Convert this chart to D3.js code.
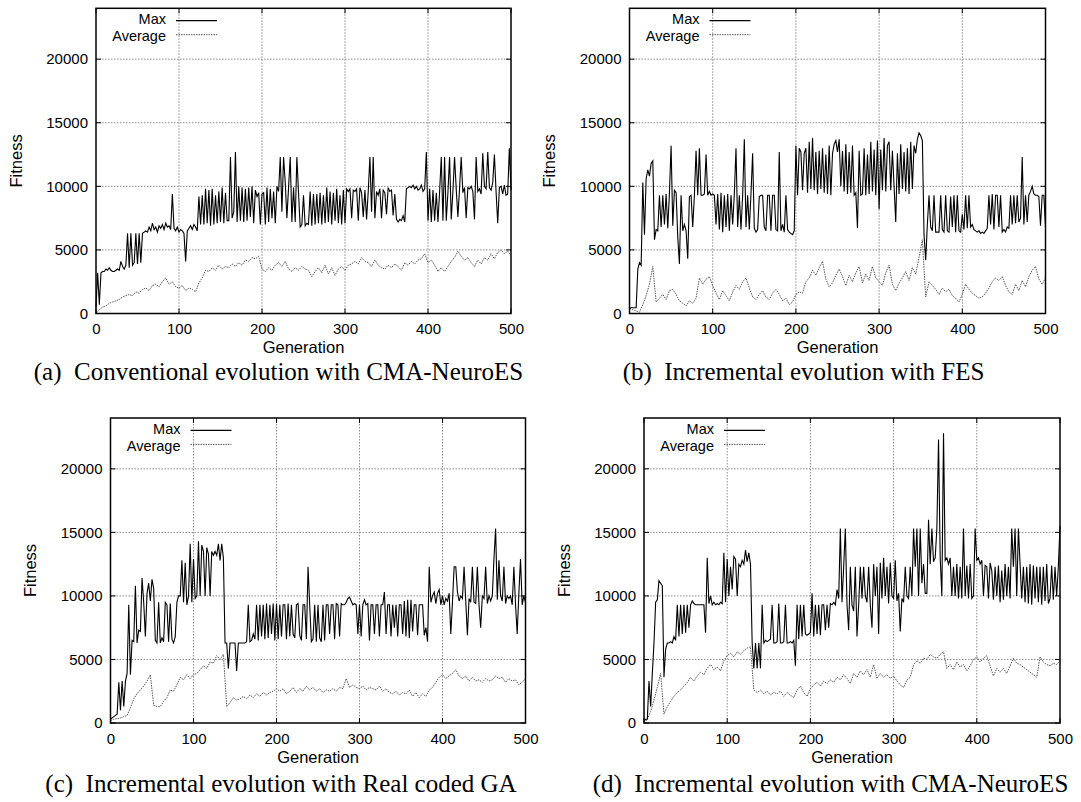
<!DOCTYPE html>
<meta charset="utf-8" />
<script src="https://d3js.org/d3.v7.min.js"></script>
<style>
	body { margin: 0; background: #fff; }
</style>
<div id="my_dataviz"></div>

<script>
	var genMax = d3.range(0, 501, 2);
	var genAvg = d3.range(0, 501, 4);

	var xTicks = [0, 100, 200, 300, 400, 500];
	var yTicks = [0, 5000, 10000, 15000, 20000];

	// (a) conventional evolution with CMA-NeuroES
	var maxA = [
		500, 3200, 700, 3200, 3300, 3300, 3500, 3400, 3600, 3400,
		3300, 3300, 3400, 3500, 3400, 4100, 3700, 3500, 3800, 6300,
		3600, 6300, 3800, 4000, 6300, 3900, 6300, 4000, 6300, 6400,
		6500, 6400, 6800, 6500, 7100, 6600, 6800, 6400, 6900, 6700,
		7000, 6600, 7100, 6800, 6900, 6600, 9400, 6700, 6500, 6800,
		6400, 6600, 6500, 6300, 4100, 6500, 6700, 6900, 6600, 7000,
		6800, 6500, 9200, 7000, 9300, 7000, 9800, 7100, 9700, 6900,
		9800, 7000, 9300, 7100, 9600, 7200, 9900, 7100, 9500, 7300,
		7300, 12300, 7500, 8000, 12700, 7200, 10000, 7300, 9900, 7200,
		9800, 7300, 9900, 7600, 10000, 7100, 9700, 9200, 9500, 7000,
		9400, 9500, 7000, 9900, 7200, 9800, 7500, 9600, 7100, 10000,
		9600, 12300, 8000, 12300, 10300, 7500, 9900, 12300, 7200, 9900,
		7200, 12300, 9500, 6800, 7000, 9300, 6900, 7100, 7000, 9600,
		6900, 9400, 7000, 9400, 7100, 9500, 7000, 9300, 7100, 9900,
		7200, 9600, 7000, 9500, 7300, 9800, 7100, 9300, 7000, 9700,
		7100, 9800, 9600, 9800, 7500, 9700, 9600, 9800, 7300, 9900,
		9500, 7600, 9700, 7400, 9600, 12300, 8000, 12300, 7500, 9600,
		9300, 9800, 7500, 9700, 9500, 7800, 9900, 9600, 9700, 7700,
		9400, 7400, 7200, 7400, 7300, 7700, 7200, 9800, 9900, 10000,
		9900, 10100, 9800, 10000, 9700, 9800, 10100, 9600, 9800, 12700,
		7300, 9800, 7200, 9700, 7300, 9500, 7200, 9600, 12300, 7300,
		12300, 7300, 9500, 12300, 7400, 9600, 12300, 9800, 7600, 9800,
		12300, 9500, 9900, 7500, 9900, 9800, 10000, 9600, 7400, 12300,
		9600, 9800, 9400, 12600, 10000, 9800, 12700, 9900, 9700, 10300,
		12500, 9600, 7100, 9900, 10000, 9400, 10100, 9300, 9400, 13000,
		9700
	];
	var avgA = [
		0, 300, 500, 600, 800, 900, 1000, 1100, 1300, 1400,
		1500, 1400, 1700, 1600, 1900, 2000, 1800, 2200, 2300, 2100,
		2500, 2800, 2300, 2500, 2100, 2000, 2200, 1800, 2000, 1900,
		1700, 2400, 2800, 3400, 3300, 3600, 3400, 3800, 3500, 3700,
		3600, 3900, 3700, 4000, 3800, 4200, 4100, 4400, 4300, 4500,
		3500, 3300, 3600, 3400, 3800, 4000, 3700, 4100, 3500, 3300,
		3600, 3400, 3700, 3500, 3400, 2900, 3300, 3600, 3200, 3800,
		3100, 3600, 3000, 3500, 3700, 3400, 3800, 3900, 4100, 3900,
		4400, 4100, 4000, 3700, 4200, 3800, 3600, 3500, 3800, 3600,
		3900, 3700, 3400, 4000, 3800, 4100, 3900, 4200, 4300, 4700,
		4000, 4200, 3800, 3300, 3600, 3300, 3700, 4100, 4400, 4900,
		4500, 4200, 4400, 4000, 3700, 4200, 3900, 4400, 4200, 4700,
		4300, 4800, 5000, 4700, 4900, 4600
	];

	// (b) incremental evolution with FES
	var maxB = [
		400, 450, 450, 450, 450, 3500, 4000, 3800, 10300, 6200,
		10600, 11300, 10800, 11800, 12000, 5800, 6600, 6500, 9300, 6800,
		9300, 7000, 9400, 6700, 9500, 13200, 6900, 9700, 9500, 6000,
		3900, 9300, 6500, 7000, 6500, 4300, 9200, 9300, 6800, 9300,
		12800, 9300, 13000, 9300, 9300, 9400, 12500, 9300, 9600, 9300,
		9400, 9300, 7000, 9400, 6600, 9500, 6400, 9300, 6800, 9400,
		6500, 9300, 7000, 9400, 13000, 6800, 9300, 6600, 9300, 13700,
		6800, 9300, 6600, 9400, 12600, 6700, 6400, 6600, 9200, 9300,
		9300, 6800, 6500, 9300, 9300, 6500, 9300, 9300, 6600, 6500,
		12700, 6500, 7000, 6400, 9300, 6600, 6400, 6300, 6200, 6500,
		13200, 9300, 13000, 12700, 9700, 12600, 13000, 9500, 13500, 9800,
		13800, 9700, 12700, 9400, 12800, 9800, 13000, 9500, 12500, 9400,
		13200, 9300, 12600, 13300, 13600, 12700, 13700, 10000, 12800, 9600,
		13300, 9400, 12700, 9500, 13200, 9300, 9500, 6700, 12800, 9300,
		9400, 13000, 9300, 12500, 9400, 13500, 9600, 12900, 9300, 13600,
		8200, 12900, 9700, 13800, 9600, 13200, 13500, 9700, 12800, 10000,
		7200, 12600, 9400, 13300, 9800, 12700, 9600, 13000, 9400, 13500,
		9800, 13200, 12600, 13700, 14200, 14000, 13600, 6200, 4200, 7000,
		9300, 6800, 6500, 9300, 6400, 6400, 6400, 9300, 6600, 6400,
		9300, 6500, 6400, 9200, 6800, 9300, 6400, 9300, 6500, 6400,
		7800, 6600, 9300, 6700, 9300, 6800, 7000, 6600, 6500, 6400,
		6500, 6300, 6400, 6300, 6500, 6700, 9300, 7000, 9400, 6600,
		9300, 9300, 6800, 9300, 6400, 6600, 6400, 6800, 6700, 9300,
		7000, 9300, 7100, 9300, 7200, 7500, 12300, 7000, 9300, 7200,
		9300, 9600, 10000, 9400, 9300, 9300, 9200, 6900, 9300, 9300,
		6800
	];
	var avgB = [
		400, 300, 200, 100, 700, 1400, 2300, 3700, 900, 1200,
		1500, 1100, 1800, 1900, 1500, 1000, 800, 600, 1000, 800,
		1200, 2800, 2300, 2700, 2900, 2200, 1600, 1100, 1800, 1400,
		1000, 1700, 2200, 1900, 2500, 2800, 2000, 1300, 1100, 1500,
		1800, 1300, 1100, 1600, 1900, 1500, 1000, 1200, 700, 900,
		1500, 1700, 1600, 2500, 2800, 3400, 3000, 3600, 4100, 2700,
		2100, 2400, 3000, 3500, 2900, 2200, 3000, 2500, 3200, 3700,
		2400, 3100, 2600, 3700, 2800, 2500, 2200, 3200, 3800, 2300,
		1800, 2400, 2800, 3300, 2600, 3600, 3100, 4400, 5800, 1300,
		2500, 2200, 1900, 1500, 2000, 1700, 1900, 1400, 1200, 900,
		1500, 2300, 1900, 1600, 1400, 1200, 1300, 1600, 2000, 2500,
		2800, 2600, 2900, 2200, 1700, 1500, 2300, 1800, 2600, 2100,
		2900, 3400, 3700, 2700, 2300, 2800
	];

	// (c) incremental evolution with real coded GA
	var maxC = [
		300, 400, 500, 600, 700, 3200, 1000, 3300, 1300, 3300,
		3900, 9300, 3800, 6500, 6400, 10800, 6300, 7300, 7200, 11400,
		9500, 6800, 10200, 11000, 9600, 11300, 10600, 6500, 6300, 9500,
		6300, 6700, 6400, 9500, 9300, 6400, 9400, 6600, 6300, 6800,
		9500, 10000, 10000, 12800, 9500, 12600, 9300, 10000, 14100, 9500,
		12900, 9800, 10000, 14300, 10000, 14000, 13500, 10000, 13800, 13300,
		10000, 13500, 13200, 13500, 13200, 14100, 12800, 14100, 13000, 6300,
		6300, 4300, 6300, 6300, 6300, 6300, 4100, 6300, 6300, 6300,
		6300, 6300, 6400, 9300, 6400, 6500, 7000, 6600, 9300, 6500,
		9300, 6800, 9300, 6600, 9400, 6700, 9300, 7000, 9400, 6500,
		9400, 6600, 9300, 6800, 9300, 9300, 6600, 9400, 6800, 9300,
		7000, 6700, 9300, 9400, 6900, 6500, 9300, 9300, 6600, 12300,
		9300, 6400, 6600, 9300, 6400, 9300, 6700, 6400, 9300, 6500,
		9300, 9300, 7000, 9300, 9300, 6600, 9400, 9300, 6800, 9400,
		9300, 9300, 9500, 9800, 9900, 9600, 9300, 9400, 9300, 7000,
		9300, 6800, 9300, 9700, 9300, 9400, 6500, 9300, 9300, 7000,
		9300, 9300, 6800, 9300, 9300, 10300, 7000, 9300, 9300, 6800,
		9300, 7500, 9300, 6800, 9300, 9300, 7000, 9600, 6800, 9700,
		6700, 9700, 7200, 9300, 9300, 6900, 9300, 9300, 9300, 6900,
		7500, 6400, 12300, 9500, 10000, 10300, 9400, 10200, 10500, 9300,
		10000, 9300, 9800, 9600, 10200, 7000, 9500, 12300, 12300, 10300,
		9600, 10000, 9800, 12300, 9600, 6900, 9800, 9500, 12300, 9500,
		9400, 12300, 9300, 7500, 10000, 9800, 12300, 9400, 10000, 9600,
		10000, 12900, 15300, 9700, 12800, 10000, 9600, 12300, 9400, 10000,
		9800, 10000, 9300, 12300, 9300, 7000, 10200, 12900, 9300, 10000,
		9500
	];
	var avgC = [
		200, 300, 350, 400, 500, 600, 1200, 1900, 2300, 2600,
		2900, 3300, 3800, 1400, 1300, 1300, 1700, 2000, 2600, 2500,
		3000, 3600, 3400, 3800, 3500, 3800, 3900, 4200, 4500, 4300,
		4800, 4700, 5300, 5000, 5400, 1300, 1600, 2000, 1800, 1900,
		2100, 1900, 2200, 2000, 2300, 2100, 2400, 2200, 2400, 2500,
		2700, 2500, 2700, 2300, 2500, 2800, 2400, 2700, 2500, 2900,
		2600, 2800, 2500, 2700, 2400, 2600, 2500, 2700, 2500, 2800,
		2700, 3500, 2800, 3000, 2800, 2700, 2900, 2600, 2800, 2700,
		2600, 2900, 2500, 2700, 2400, 2300, 2500, 2200, 2400, 2300,
		2600, 2100, 2400, 2000, 2300, 2100, 2600, 2800, 3200, 3600,
		3800, 3500, 3700, 3900, 4200, 3700, 3500, 3700, 3300, 3600,
		3300, 3400, 3200, 3500, 3300, 3400, 3700, 3500, 3600, 3200,
		3500, 3300, 3400, 3000, 3200, 3500
	];

	// (d) incremental evolution with CMA-NeuroES
	var maxD = [
		200, 300, 300, 3300, 1300, 3900, 6300, 9500, 9700, 11200,
		11000, 10800, 3600, 5800, 6300, 6300, 6400, 6300, 6800, 6500,
		9300, 6800, 9300, 7000, 9300, 7100, 9300, 7500, 9300, 9600,
		9400, 9300, 9300, 9300, 9300, 9300, 9300, 7100, 13000, 9400,
		10000, 9300, 9500, 9300, 9400, 9300, 9500, 9400, 13400, 9500,
		12900, 10000, 12300, 10500, 13100, 12900, 10000, 12500, 12300, 12800,
		12500, 13600, 12700, 13400, 12500, 6300, 4300, 6300, 4300, 6300,
		4300, 9300, 6300, 6500, 6400, 6500, 6600, 9300, 6300, 6300,
		6400, 9400, 6300, 6300, 6400, 9300, 6300, 6300, 6400, 6300,
		6500, 4500, 9300, 6600, 9300, 6800, 9300, 7000, 6900, 7000,
		7100, 10200, 6800, 9300, 7000, 9300, 6900, 9300, 9300, 7300,
		9300, 7500, 9400, 9300, 9500, 9300, 10500, 9800, 15300, 9500,
		12300, 15300, 9300, 7300, 12300, 9300, 8800, 12300, 6800, 9300,
		12300, 9800, 12300, 10000, 9500, 12300, 9300, 7500, 12500, 10000,
		12300, 7000, 12600, 9800, 13000, 10000, 12300, 9400, 12600, 10000,
		9800, 12800, 9600, 10200, 7200, 9800, 9500, 12300, 10000, 9800,
		12300, 10000, 15300, 12300, 15300, 10000, 15300, 11000, 12500, 10200,
		10200, 16000, 12500, 15300, 12700, 13000, 15300, 22300, 13000, 10000,
		22800, 12800, 13000, 12500, 13000, 10000, 12300, 10000, 12500, 9800,
		12300, 9800, 15300, 10000, 12400, 9800, 12500, 9800, 10000, 15300,
		12800, 13000, 12500, 12800, 10000, 12400, 12300, 9800, 12600, 12000,
		9700, 12300, 10000, 12400, 9500, 12000, 9700, 12500, 10000, 12300,
		9800, 15300, 12300, 15300, 10000, 15300, 12500, 9800, 12300, 9500,
		12300, 9400, 12500, 9300, 12400, 9800, 12300, 9500, 12300, 9300,
		12300, 9600, 12500, 9400, 9800, 12400, 9700, 12300, 10000, 12300,
		15500
	];
	var avgD = [
		0, 300, 900, 1800, 2800, 3900, 700, 1300, 1700, 2100,
		2400, 2600, 2900, 3200, 3600, 3300, 3700, 4000, 3800, 4300,
		4600, 4200, 4400, 4100, 4900, 5300, 5500, 5200, 5600, 5400,
		5700, 5900, 6000, 2600, 2400, 2600, 2300, 2500, 2200, 2400,
		2300, 2500, 2100, 2400, 2200, 2000, 2600, 2900, 2400, 2100,
		2700, 3000, 3200, 2900, 3300, 3100, 3400, 3200, 3600, 3400,
		3800, 3500, 3100, 3900, 3600, 4100, 3800, 4200, 3600, 4600,
		3500, 3900, 3600, 3800, 3500, 3700, 3300, 3000, 2800, 3400,
		3600, 4600, 4900, 4700, 5100, 5000, 5400, 5200, 5100, 5400,
		5600, 4300, 4600, 4200, 4800, 4400, 4600, 4100, 4500, 5000,
		5200, 4800, 5100, 5300, 4500, 3700, 4300, 4000, 4300, 3900,
		4500, 5100, 4700, 4600, 4400, 4200, 4000, 3800, 3600, 5200,
		4800, 4600, 4500, 4700, 4600, 4900
	];

	var legendLabels = ['Max', 'Average'];
	var captions = [
		'(a)\u2002Conventional evolution with CMA-NeuroES',
		'(b)\u2002Incremental evolution with FES',
		'(c)\u2002Incremental evolution with Real coded GA',
		'(d)\u2002Incremental evolution with CMA-NeuroES'
	];

	// panel placement on the page
	var panels = [
		{ left: 96, top: 8.3, w: 415, h: 305.2, max: maxA, avg: avgA, cap: captions[0], capX: 278.5, capY: 379.5 },
		{ left: 629.5, top: 8.3, w: 416, h: 305.2, max: maxB, avg: avgB, cap: captions[1], capX: 803.5, capY: 379.5 },
		{ left: 110.5, top: 418, w: 415, h: 305, max: maxC, avg: avgC, cap: captions[2], capX: 281, capY: 792 },
		{ left: 644, top: 418, w: 416, h: 305, max: maxD, avg: avgD, cap: captions[3], capX: 830.5, capY: 792 }
	];

	var sans = "'Liberation Sans', Arial, Helvetica, sans-serif";
	var serif = "'Liberation Serif', 'Times New Roman', serif";

	var svg = d3
		.select('#my_dataviz')
		.append('svg')
		.attr('width', 1081)
		.attr('height', 802);

	panels.forEach(function (p) {
		var g = svg.append('g').attr('transform', 'translate(' + p.left + ',' + p.top + ')');

		var x = d3.scaleLinear().domain([0, 500]).range([0, p.w]);
		var y = d3.scaleLinear().domain([0, 24000]).range([p.h, 0]);

		// dotted grid
		g.append('g')
			.selectAll('line')
			.data(xTicks.slice(1, -1))
			.enter()
			.append('line')
			.attr('x1', function (d) { return x(d); })
			.attr('x2', function (d) { return x(d); })
			.attr('y1', 0)
			.attr('y2', p.h)
			.attr('stroke', '#8a8a8a')
			.attr('stroke-width', 1)
			.attr('stroke-dasharray', '1.5,1.5');
		g.append('g')
			.selectAll('line')
			.data(yTicks.slice(1))
			.enter()
			.append('line')
			.attr('x1', 0)
			.attr('x2', p.w)
			.attr('y1', function (d) { return y(d); })
			.attr('y2', function (d) { return y(d); })
			.attr('stroke', '#8a8a8a')
			.attr('stroke-width', 1)
			.attr('stroke-dasharray', '1.5,1.5');

		// average (dotted grey) and max (solid black)
		var lineAvg = d3.line()
			.x(function (d, i) { return x(genAvg[i]); })
			.y(function (d) { return y(d); });
		var lineMax = d3.line()
			.x(function (d, i) { return x(genMax[i]); })
			.y(function (d) { return y(d); });

		g.append('path')
			.datum(p.avg)
			.attr('d', lineAvg)
			.attr('fill', 'none')
			.attr('stroke', '#555')
			.attr('stroke-width', 1)
			.attr('stroke-dasharray', '1.5,1');
		g.append('path')
			.datum(p.max)
			.attr('d', lineMax)
			.attr('fill', 'none')
			.attr('stroke', '#000')
			.attr('stroke-width', 1.1);

		// frame
		g.append('rect')
			.attr('width', p.w)
			.attr('height', p.h)
			.attr('fill', 'none')
			.attr('stroke', '#000')
			.attr('stroke-width', 1.5);

		// inward mirrored ticks
		var tk = g.append('g').attr('stroke', '#000').attr('stroke-width', 1);
		xTicks.forEach(function (t) {
			tk.append('line').attr('x1', x(t)).attr('x2', x(t)).attr('y1', p.h).attr('y2', p.h - 5);
			tk.append('line').attr('x1', x(t)).attr('x2', x(t)).attr('y1', 0).attr('y2', 5);
		});
		yTicks.forEach(function (t) {
			tk.append('line').attr('x1', 0).attr('x2', 5).attr('y1', y(t)).attr('y2', y(t));
			tk.append('line').attr('x1', p.w).attr('x2', p.w - 5).attr('y1', y(t)).attr('y2', y(t));
		});

		// tick labels
		var ax = g.append('g')
			.attr('transform', 'translate(0,' + p.h + ')')
			.call(d3.axisBottom(x).tickValues(xTicks).tickSize(0).tickPadding(10).tickFormat(d3.format('d')));
		var ay = g.append('g')
			.call(d3.axisLeft(y).tickValues(yTicks).tickSize(0).tickPadding(8).tickFormat(d3.format('d')));
		[ax, ay].forEach(function (a) {
			a.select('.domain').remove();
			a.selectAll('text')
				.style('font-family', sans)
				.style('font-size', '15px')
				.attr('fill', '#000');
		});

		// axis titles
		g.append('text')
			.attr('x', p.w / 2)
			.attr('y', p.h + 40)
			.attr('text-anchor', 'middle')
			.style('font-family', sans)
			.style('font-size', '16.5px')
			.text('Generation');
		g.append('text')
			.attr('transform', 'translate(-74.5,' + p.h / 2 + ')rotate(-90)')
			.attr('text-anchor', 'middle')
			.style('font-family', sans)
			.style('font-size', '16.5px')
			.text('Fitness');

		// legend
		var lg = g.append('g');
		legendLabels.forEach(function (name, i) {
			lg.append('text')
				.attr('x', 70)
				.attr('y', 15.7 + i * 16.8)
				.attr('text-anchor', 'end')
				.style('font-family', sans)
				.style('font-size', '14.5px')
				.text(name);
			lg.append('line')
				.attr('x1', 80)
				.attr('x2', 121)
				.attr('y1', 12.4 + i * 14)
				.attr('y2', 12.4 + i * 14)
				.attr('stroke', i == 0 ? '#000' : '#555')
				.attr('stroke-width', i == 0 ? 1.2 : 1)
				.attr('stroke-dasharray', i == 0 ? null : '1.5,1');
		});

		// sub-caption
		svg.append('text')
			.attr('x', p.capX)
			.attr('y', p.capY)
			.attr('text-anchor', 'middle')
			.style('font-family', serif)
			.style('font-size', '25px')
			.text(p.cap);
	});
</script>
